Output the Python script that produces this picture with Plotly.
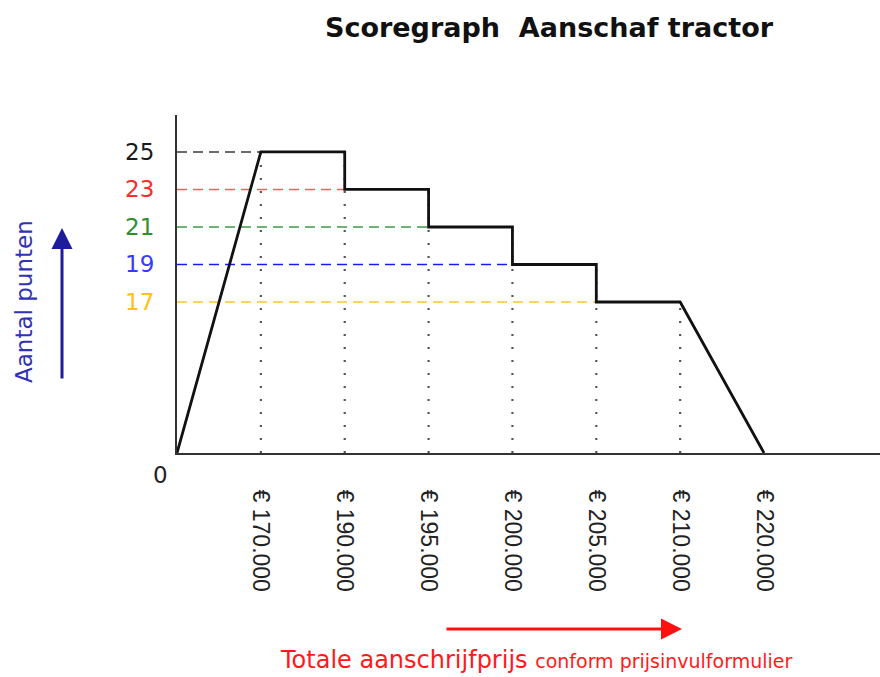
import plotly.graph_objects as go

# ---------------- data ----------------
tick_prices = [170000, 190000, 195000, 200000, 205000, 210000, 220000]
tick_labels = ["€ 170.000", "€ 190.000", "€ 195.000", "€ 200.000",
               "€ 205.000", "€ 210.000", "€ 220.000"]
level_scores = [25, 23, 21, 19, 17]          # score held from tick_prices[i] to tick_prices[i+1]
level_colors = ["#3a3a3a", "#ff5a5a", "#3f9a3f", "#1a1aff", "#ffc62a"]
label_colors = ["#1a1a1a", "#ff2a2a", "#2f8f2f", "#3a3aff", "#ffbf1a"]

# ---------------- scales ----------------
# x: ordinal (schematic) axis: origin at slot 0, each price at its own slot
def xs(price):
    return 0 if price == 0 else tick_prices.index(price) + 1

# y: broken axis -> scores 17..25 linear, 0 drawn at the axis break
Y_BREAK = 8.95
def ys(score):
    return Y_BREAK if score == 0 else score

W, H = 880, 677
L, T, B = 177, 115, 224
PW, PH = W - L, H - T - B
def px_x(xpix):
    return (xpix - L) / PW
def px_y(ypix):
    return (H - B - ypix) / PH

fig = go.Figure()

# step score line
pts_x, pts_y = [xs(0)], [ys(0)]
for i, s in enumerate(level_scores):
    pts_x += [xs(tick_prices[i]), xs(tick_prices[i + 1])]
    pts_y += [ys(s), ys(s)]
pts_x.append(xs(tick_prices[-1]))
pts_y.append(ys(0))

# dotted verticals
dx, dy = [], []
for i, p in enumerate(tick_prices[:-1]):
    top = level_scores[i - 1] if i > 0 else level_scores[0]
    dx += [xs(p), xs(p), None]
    dy += [ys(0), ys(top), None]
fig.add_trace(go.Scatter(x=dx, y=dy, mode="lines",
                         line=dict(color="#555555", width=2.2, dash="2px,11px"),
                         hoverinfo="skip", showlegend=False))

# coloured dashed reference lines
for i, s in enumerate(level_scores):
    fig.add_trace(go.Scatter(x=[xs(0), xs(tick_prices[i])], y=[ys(s), ys(s)],
                             mode="lines",
                             line=dict(color=level_colors[i], width=1.6, dash="10px,6px"),
                             hoverinfo="skip", showlegend=False))

fig.add_trace(go.Scatter(x=pts_x, y=pts_y, mode="lines",
                         line=dict(color="#111111", width=2.8),
                         hoverinfo="skip", showlegend=False))

# y tick labels (coloured)
ann = []
for i, s in enumerate(level_scores):
    ann.append(dict(x=px_x(156), xref="paper", y=ys(s), yref="y", text=str(s),
                    showarrow=False, xanchor="right", yanchor="middle",
                    font=dict(family="DejaVu Sans", size=23, color=label_colors[i])))
ann.append(dict(x=px_x(160), xref="paper", y=px_y(475), yref="paper", text="0",
                showarrow=False, xanchor="center", yanchor="middle",
                font=dict(family="DejaVu Sans", size=23, color="#222222")))

# y title + arrow
ann.append(dict(x=px_x(24), xref="paper", y=px_y(302), yref="paper", text="Aantal punten",
                showarrow=False, textangle=-90, xanchor="center", yanchor="middle",
                font=dict(family="DejaVu Sans", size=23, color="#3232b4")))
ann.append(dict(x=px_x(62), xref="paper", y=px_y(228), yref="paper", text="",
                showarrow=True, ax=0, ay=152, arrowhead=2, arrowsize=1.4, arrowwidth=3,
                arrowcolor="#1c1c9c"))

# x title + arrow
ann.append(dict(x=px_x(682), xref="paper", y=px_y(629), yref="paper", text="",
                showarrow=True, ax=-237, ay=0, arrowhead=2, arrowsize=1.4, arrowwidth=3,
                arrowcolor="#ff1010"))
ann.append(dict(x=px_x(536), xref="paper", y=px_y(660), yref="paper",
                text="Totale aanschrijfprijs <span style='font-size:19px'>conform prijsinvulformulier</span>",
                showarrow=False, xanchor="center", yanchor="middle",
                font=dict(family="DejaVu Sans", size=24, color="#ff1a1a")))

fig.update_layout(
    width=W, height=H,
    margin=dict(l=L, r=0, t=T, b=B),
    paper_bgcolor="white", plot_bgcolor="white",
    title=dict(text="<b>Scoregraph  Aanschaf tractor</b>", x=549 / W, xanchor="center",
               y=1 - 28 / H, yanchor="middle",
               font=dict(family="DejaVu Sans", size=27, color="#111111")),
    annotations=ann,
    xaxis=dict(range=[0, 8.383], showgrid=False, zeroline=False,
               showline=True, linecolor="#333333", linewidth=2,
               tickmode="array", tickvals=[xs(p) for p in tick_prices], ticktext=tick_labels,
               tickangle=90, ticks="", ticklabelstandoff=30,
               tickfont=dict(family="Liberation Sans", size=23, color="#222222")),
    yaxis=dict(range=[Y_BREAK, 26.97], showgrid=False, zeroline=False,
               showline=True, linecolor="#333333", linewidth=2,
               showticklabels=False, ticks=""),
)

fig.write_html("out.html", config={"displayModeBar": False},
               post_script="document.body.style.margin='0';document.body.style.overflow='hidden';")
